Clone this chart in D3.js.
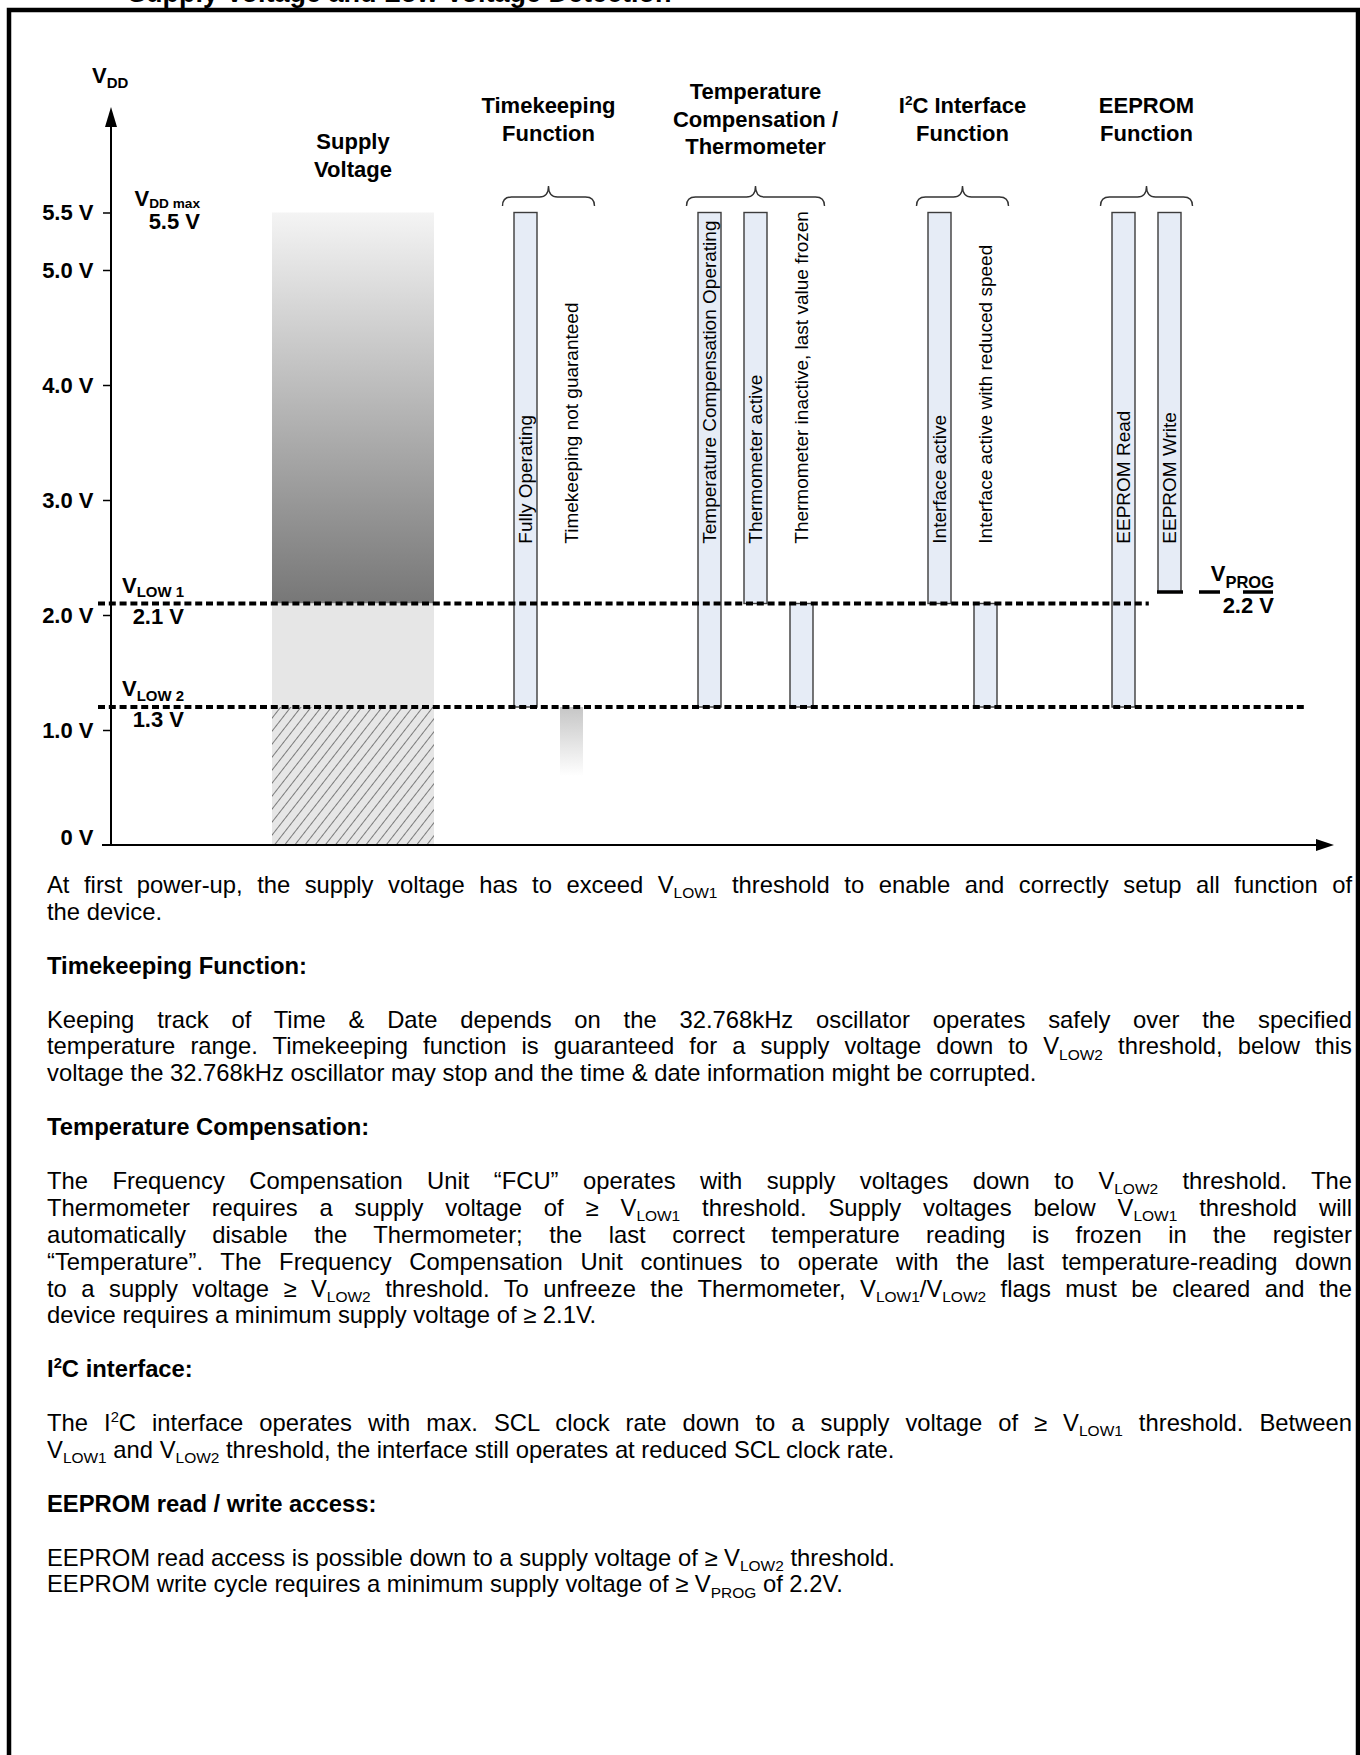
<!DOCTYPE html>
<html>
<head>
<meta charset="utf-8">
<style>
  html, body { margin: 0; padding: 0; background: #fff; }
  svg { display: block; font-family: "Liberation Sans", Arial, sans-serif; }
</style>
</head>
<body>
<svg id="page" width="1360" height="1755"></svg>

<script src="https://cdnjs.cloudflare.com/ajax/libs/d3/7.8.5/d3.min.js"></script>
<script>
  // VDD axis ticks
  const tickValues = [0, 1, 2, 3, 4, 5, 5.5]
  const tickLabels = ['0 V', '1.0 V', '2.0 V', '3.0 V', '4.0 V', '5.0 V', '5.5 V']

  // thresholds: level where the line is drawn, and its printed value
  const thresholdNames = ['LOW 1', 'LOW 2']
  const thresholdLevels = [2.1, 1.2]
  const thresholdValues = ['2.1 V', '1.3 V']
  const thresholdEnds = [13.8, 17.2]          // in column units

  const vddMax = 5.5
  const vProg = 2.2

  // group headers (column units for the centre, bar count for the brace)
  const groupTitles = [['Supply', 'Voltage'], ['Timekeeping', 'Function'],
    ['Temperature', 'Compensation /', 'Thermometer'], ['I^{2}C Interface', 'Function'], ['EEPROM', 'Function']]
  const groupCenters = [-3.75, 0.5, 5, 9.5, 13.5]
  const groupSizes = [0, 2, 3, 2, 2]

  // supply voltage column
  const supplyHigh = [5.5, 2.1, 1.2]
  const supplyLow = [2.1, 1.2, 0]
  const supplyKinds = ['operating', 'reduced', 'off']

  // function bars
  const barLabels = ['Fully Operating', 'Timekeeping not guaranteed', 'Temperature Compensation Operating',
    'Thermometer active', 'Thermometer inactive, last value frozen', 'Interface active',
    'Interface active with reduced speed', 'EEPROM Read', 'EEPROM Write']
  const barColumns = [0, 1, 4, 5, 6, 9, 10, 13, 14]
  const barHigh = [5.5, null, 5.5, 5.5, 2.1, 5.5, 2.1, 5.5, 5.5]
  const barLow = [1.2, null, 1.2, 2.1, 1.2, 2.1, 1.2, 1.2, 2.2]

  // oscillator may stop below VLOW2
  const fadeColumn = 1
  const fadeHigh = 1.2
  const fadeLow = 0.6

  // text under the diagram: [text, kind] j = justified, l = last line, h = heading
  const bodyLines = [
    ['At first power-up, the supply voltage has to exceed V_{LOW1} threshold to enable and correctly setup all function of', 'j'],
    ['the device.', 'l'],
    ['', ''],
    ['Timekeeping Function:', 'h'],
    ['', ''],
    ['Keeping track of Time & Date depends on the 32.768kHz oscillator operates safely over the specified', 'j'],
    ['temperature range. Timekeeping function is guaranteed for a supply voltage down to V_{LOW2} threshold, below this', 'j'],
    ['voltage the 32.768kHz oscillator may stop and the time & date information might be corrupted.', 'l'],
    ['', ''],
    ['Temperature Compensation:', 'h'],
    ['', ''],
    ['The Frequency Compensation Unit \u201CFCU\u201D operates with supply voltages down to V_{LOW2} threshold. The', 'j'],
    ['Thermometer requires a supply voltage of \u2265 V_{LOW1} threshold. Supply voltages below V_{LOW1} threshold will', 'j'],
    ['automatically disable the Thermometer; the last correct temperature reading is frozen in the register', 'j'],
    ['\u201CTemperature\u201D. The Frequency Compensation Unit continues to operate with the last temperature-reading down', 'j'],
    ['to a supply voltage \u2265 V_{LOW2} threshold. To unfreeze the Thermometer, V_{LOW1}/V_{LOW2} flags must be cleared and the', 'j'],
    ['device requires a minimum supply voltage of \u2265 2.1V.', 'l'],
    ['', ''],
    ['I^{2}C interface:', 'h'],
    ['', ''],
    ['The I^{2}C interface operates with max. SCL clock rate down to a supply voltage of \u2265 V_{LOW1} threshold. Between', 'j'],
    ['V_{LOW1} and V_{LOW2} threshold, the interface still operates at reduced SCL clock rate.', 'l'],
    ['', ''],
    ['EEPROM read / write access:', 'h'],
    ['', ''],
    ['EEPROM read access is possible down to a supply voltage of \u2265 V_{LOW2} threshold.', 'l'],
    ['EEPROM write cycle requires a minimum supply voltage of \u2265 V_{PROG} of 2.2V.', 'l']
  ]

  const svg = d3.select('#page')
  const y = d3.scaleLinear().domain([0, 5.5]).range([845, 212.5])
  const x = d3.scaleLinear().domain([0, 1]).range([514, 560])
  const barW = 23
  const colMid = c => x(c) + barW / 2

  // text with _{sub} and ^{sup} parts
  function rich(sel, str, fs, ratio = 0.68, drop = 0.22) {
    const parts = str.split(/(_\{[^}]*\}|\^\{[^}]*\})/).filter(s => s.length)
    let shift = 0
    parts.forEach(p => {
      let t = p, size = fs, off = 0
      if (p.startsWith('_{')) { t = p.slice(2, -1); size = fs * ratio; off = fs * drop }
      else if (p.startsWith('^{')) { t = p.slice(2, -1); size = fs * 0.62; off = -fs * 0.38 }
      sel.append('tspan').attr('font-size', size).attr('dy', off - shift).text(t)
      shift = off
    })
    return sel
  }

  const defs = svg.append('defs')
  const grad = defs.append('linearGradient').attr('id', 'supplyGrad')
    .attr('x1', 0).attr('y1', 0).attr('x2', 0).attr('y2', 1)
  grad.append('stop').attr('offset', '0%').attr('stop-color', '#f4f4f4')
  grad.append('stop').attr('offset', '100%').attr('stop-color', '#777777')
  const fade = defs.append('linearGradient').attr('id', 'fadeGrad')
    .attr('x1', 0).attr('y1', 0).attr('x2', 0).attr('y2', 1)
  fade.append('stop').attr('offset', '0%').attr('stop-color', '#c6c6c6')
  fade.append('stop').attr('offset', '100%').attr('stop-color', '#ffffff')
  const hatch = defs.append('pattern').attr('id', 'hatch').attr('patternUnits', 'userSpaceOnUse')
    .attr('width', 8).attr('height', 8).attr('patternTransform', 'rotate(38)')
  hatch.append('rect').attr('width', 8).attr('height', 8).attr('fill', '#e6e6e6')
  hatch.append('line').attr('x1', 0).attr('y1', 0).attr('x2', 0).attr('y2', 8)
    .attr('stroke', '#333').attr('stroke-width', 1.2)

  // page title (cut by the top edge) and frame
  svg.append('text').attr('x', 128).attr('y', 1.5).attr('font-size', 27).attr('font-weight', 'bold')
    .text('Supply Voltage and Low Voltage Detection')
  svg.append('path').attr('d', 'M9,1770V10H1358V1770').attr('fill', 'none')
    .attr('stroke', '#000').attr('stroke-width', 4.5)

  // supply voltage column
  const supplyFill = { operating: 'url(#supplyGrad)', reduced: '#e6e6e6', off: 'url(#hatch)' }
  const sx = colMid(groupCenters[0])
  svg.append('g').selectAll('rect').data(supplyHigh).join('rect')
    .attr('x', sx - 81).attr('width', 162)
    .attr('y', d => y(d))
    .attr('height', (d, i) => y(supplyLow[i]) - y(d))
    .attr('fill', (d, i) => supplyFill[supplyKinds[i]])

  // function bars
  const bars = barLabels.map((label, i) => ({ label, col: barColumns[i], hi: barHigh[i], lo: barLow[i] }))
  svg.append('g').selectAll('rect').data(bars.filter(d => d.hi !== null)).join('rect')
    .attr('x', d => x(d.col)).attr('width', barW)
    .attr('y', d => y(d.hi)).attr('height', d => y(d.lo) - y(d.hi))
    .attr('fill', '#e6ecf6').attr('stroke', '#3c3c3c').attr('stroke-width', 1.4)

  svg.append('rect').attr('x', x(fadeColumn)).attr('width', barW)
    .attr('y', y(fadeHigh)).attr('height', y(fadeLow) - y(fadeHigh))
    .attr('fill', 'url(#fadeGrad)')

  // rotated bar labels
  svg.append('g').selectAll('text').data(bars).join('text')
    .attr('transform', d => `translate(${colMid(d.col)},${y(2.62)}) rotate(-90)`)
    .attr('dy', '0.35em').attr('font-size', 19).text(d => d.label)

  // threshold lines
  svg.append('g').selectAll('line').data(thresholdLevels).join('line')
    .attr('x1', 98).attr('x2', (d, i) => x(thresholdEnds[i]))
    .attr('y1', d => y(d)).attr('y2', d => y(d))
    .attr('stroke', '#000').attr('stroke-width', 4).attr('stroke-dasharray', '7 3.8')

  // EEPROM write limit and VPROG marker
  const wr = bars[8]
  svg.append('line').attr('x1', x(wr.col) - 1).attr('x2', x(wr.col) + barW + 2)
    .attr('y1', y(vProg)).attr('y2', y(vProg)).attr('stroke', '#000').attr('stroke-width', 3.5)
  svg.append('line').attr('x1', x(wr.col) + barW + 18).attr('x2', x(wr.col) + barW + 92)
    .attr('y1', y(vProg)).attr('y2', y(vProg)).attr('stroke', '#000').attr('stroke-width', 3.5)
    .attr('stroke-dasharray', '21 23 30')

  // threshold labels
  const lab = svg.append('g').attr('font-weight', 'bold').attr('text-anchor', 'end')
  thresholdLevels.forEach((lv, i) => {
    rich(lab.append('text').attr('x', 184).attr('y', y(lv) - 11), 'V_{' + thresholdNames[i] + '}', 22)
    lab.append('text').attr('x', 184).attr('y', y(lv) + 20).attr('font-size', 22).text(thresholdValues[i])
  })
  rich(lab.append('text').attr('x', 200).attr('y', y(vddMax) - 7), 'V_{DD max}', 22, 0.62, 0.12)
  lab.append('text').attr('x', 200).attr('y', y(vddMax) + 16).attr('font-size', 22).text('5.5 V')
  rich(lab.append('text').attr('x', 1274).attr('y', y(vProg) - 11), 'V_{PROG}', 22, 0.75, 0.3)
  lab.append('text').attr('x', 1274).attr('y', y(vProg) + 21).attr('font-size', 22).text('2.2 V')

  // group headers and braces
  const firstBaseline = [149, 113, 99, 113, 113]
  groupTitles.forEach((lines, g) => {
    lines.forEach((ln, k) => {
      rich(svg.append('text').attr('x', colMid(groupCenters[g])).attr('y', firstBaseline[g] + k * 27.5)
        .attr('text-anchor', 'middle').attr('font-weight', 'bold'), ln, 22)
    })
  })
  const brace = (cx, half) => {
    const yEnd = 206, yMid = 197, yTip = 186, r = 9
    return `M${cx - half},${yEnd}Q${cx - half},${yMid} ${cx - half + r},${yMid}L${cx - r},${yMid}` +
      `Q${cx},${yMid} ${cx},${yTip}Q${cx},${yMid} ${cx + r},${yMid}L${cx + half - r},${yMid}` +
      `Q${cx + half},${yMid} ${cx + half},${yEnd}`
  }
  svg.append('g').selectAll('path').data(groupCenters.filter((c, i) => groupSizes[i] > 0)).join('path')
    .attr('d', (c, i) => brace(colMid(c), groupSizes.filter(s => s > 0)[i] * 23))
    .attr('fill', 'none').attr('stroke', '#333').attr('stroke-width', 1.4)

  // axes
  const yAxis = d3.axisLeft(y).tickValues(tickValues).tickFormat((d, i) => tickLabels[i])
    .tickSize(8).tickPadding(9.5).tickSizeOuter(0)
  const ga = svg.append('g').attr('transform', 'translate(111,0)').call(yAxis)
  ga.select('.domain').remove()
  ga.selectAll('.tick line').attr('stroke', '#000').attr('stroke-width', 1.5)
  ga.selectAll('.tick text').attr('font-size', 22).attr('font-weight', 'bold')
    .attr('font-family', '"Liberation Sans", Arial, sans-serif').attr('fill', '#000')
  ga.selectAll('.tick').filter(d => d === 0).select('line').remove()
  ga.selectAll('.tick').filter(d => d === 0).select('text').attr('y', -8)
  ga.attr('font-family', null).attr('font-size', null)

  svg.append('line').attr('x1', 111).attr('x2', 111).attr('y1', y(0)).attr('y2', 122)
    .attr('stroke', '#000').attr('stroke-width', 2)
  svg.append('path').attr('d', 'M111,107L105,127L117,127Z').attr('fill', '#000')
  svg.append('line').attr('x1', 102).attr('x2', 1318).attr('y1', y(0)).attr('y2', y(0))
    .attr('stroke', '#000').attr('stroke-width', 2)
  svg.append('path').attr('d', `M1334,${y(0)}L1316,${y(0) - 6}L1316,${y(0) + 6}Z`).attr('fill', '#000')
  rich(svg.append('text').attr('x', 92).attr('y', 83).attr('font-weight', 'bold'), 'V_{DD}', 22)

  // body text
  const bodyTop = 893, bodyStep = 26.9, bodyLeft = 47, bodyRight = 1352, bodySize = 23.8
  bodyLines.forEach((line, i) => {
    if (!line[0]) return
    const t = svg.append('text').attr('x', bodyLeft).attr('y', bodyTop + i * bodyStep)
      .attr('font-weight', line[1] === 'h' ? 'bold' : null)
    rich(t, line[0], bodySize, 0.65)
    if (line[1] === 'j') {
      const target = bodyRight - bodyLeft
      const natural = t.node().getComputedTextLength()
      const gaps = line[0].split(' ').length - 1
      t.style('word-spacing', ((target - natural) / gaps) + 'px')
      if (Math.abs(t.node().getComputedTextLength() - target) > 3) {
        t.style('word-spacing', null).attr('textLength', target).attr('lengthAdjust', 'spacing')
      }
    }
  })
</script>
</body>
</html>
